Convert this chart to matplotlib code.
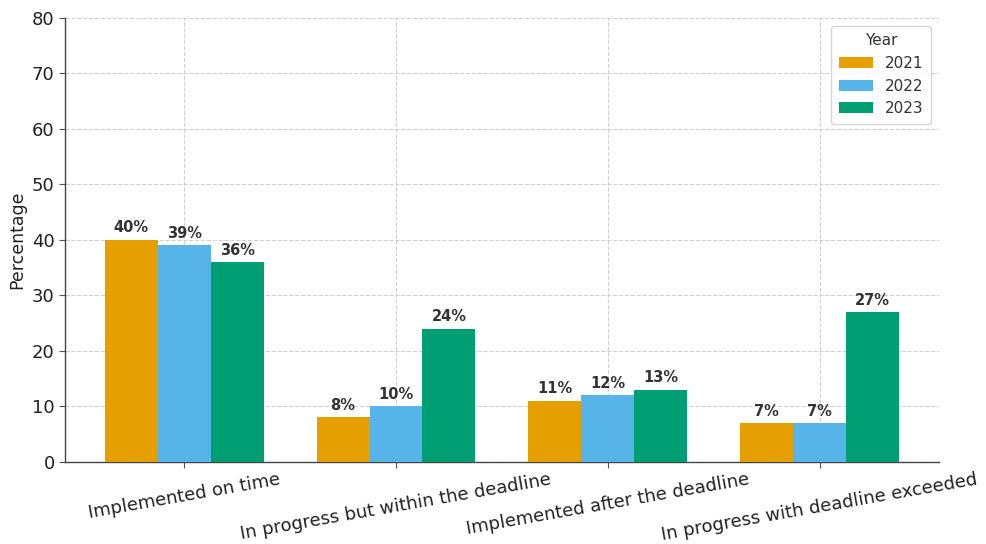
import matplotlib
matplotlib.use("Agg")
import matplotlib.pyplot as plt
import numpy as np

categories = ["Implemented on time", "In progress but within the deadline",
              "Implemented after the deadline", "In progress with deadline exceeded"]
years = ["2021", "2022", "2023"]
values_2021 = [40, 8, 11, 7]
values_2022 = [39, 10, 12, 7]
values_2023 = [36, 24, 13, 27]
colors = ["#E69F00", "#56B4E9", "#009E73"]

plt.rcParams["font.family"] = ["DejaVu Sans"]
fig = plt.figure(figsize=(9.87, 5.44), dpi=100)
ax = fig.add_axes([0.066, 0.151, 0.885, 0.816])

x = np.arange(len(categories))
w = 0.25
series = [values_2021, values_2022, values_2023]
for i, (yr, vals, c) in enumerate(zip(years, series, colors)):
    bars = ax.bar(x + (i - 1) * w, vals, w, label=yr, color=c, zorder=3)
    for b, v in zip(bars, vals):
        ax.text(b.get_x() + b.get_width() / 2, v + 0.8, f"{v}%", ha="center", va="bottom",
                fontsize=10.5, fontweight="bold", color="#333333", zorder=4)

ax.set_ylim(0, 80)
ax.set_yticks(range(0, 81, 10))
ax.set_xticks(x)
ax.set_xticklabels(categories, rotation=10, fontsize=13, color="#222222")
ax.tick_params(axis="y", labelsize=13, colors="#222222")
ax.tick_params(axis="both", color="#555555", length=4)
ax.tick_params(axis="x", pad=2)
ax.set_ylabel("Percentage", fontsize=12.5, color="#222222")
ax.grid(True, linestyle="--", color="#d0d0d0", linewidth=0.8, zorder=0)
for s in ["top", "right"]:
    ax.spines[s].set_visible(False)
for s in ["left", "bottom"]:
    ax.spines[s].set_color("#444444")
    ax.spines[s].set_linewidth(1.0)
leg = ax.legend(title="Year", fontsize=11, title_fontsize=11, loc="upper right",
                handlelength=2.2, borderpad=0.5)
for t in leg.get_texts():
    t.set_color("#333333")
leg.get_title().set_color("#333333")

fig.savefig("out.png", dpi=100)
